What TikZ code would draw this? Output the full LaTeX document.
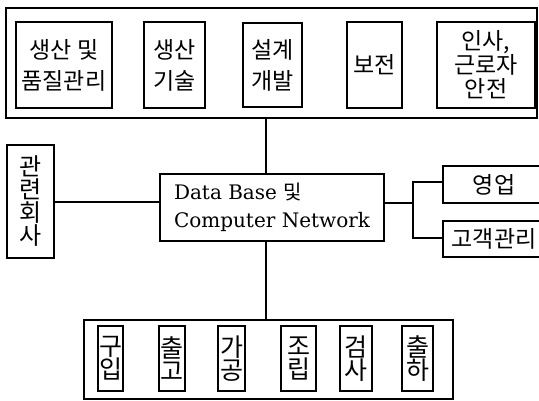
\documentclass[tikz,border=0pt]{standalone}
\usepackage{fontspec}
\newfontfamily\kr{Noto Sans CJK KR}
\newfontfamily\serifwide{DejaVu Serif}
\begin{document}
\begin{tikzpicture}[x=1pt,y=-1pt,
  grp/.style={draw, line width=1.1pt, inner sep=0pt},
  unit/.style={draw, line width=1.4pt, inner sep=0pt, align=center,
    font=\kr\fontsize{23}{31}\selectfont},
  vunit/.style={unit, font=\kr\fontsize{25}{23}\selectfont},
  link/.style={line width=1.1pt}]
\useasboundingbox (0,0) rectangle (539,401);

% upper group of departments
\node[grp, minimum width=531pt, minimum height=110pt] (upper) at (271.5,63) {};
\node[unit, minimum width=96pt, minimum height=86pt] (prod) at (64,65) {생산 및\\품질관리};
\node[unit, minimum width=61pt, minimum height=86pt] (tech) at (174.5,65) {생산\\기술};
\node[unit, minimum width=59pt, minimum height=84pt] (design) at (272.5,65) {설계\\개발};
\node[unit, minimum width=55pt, minimum height=86pt] (maint) at (374.5,65) {보전};
\node[unit, minimum width=98pt, minimum height=86pt,
  font=\kr\fontsize{23}{24}\selectfont] (hr) at (486,65) {인사,\\근로자\\안전};

% central database
\node[draw, line width=1.1pt, inner sep=0pt, minimum width=224pt, minimum height=67pt,
  align=left, font=\serifwide\fontsize{20}{28}\selectfont]
  (db) at (272,207.5) {Data Base {\kr 및}\\Computer Network};

% affiliated companies
\node[vunit, minimum width=47pt, minimum height=113pt,
  font=\kr\fontsize{24}{23}\selectfont] (rel) at (30.5,201.5) {관\\련\\회\\사};

% sales side
\node[unit, line width=1.1pt, minimum width=102pt, minimum height=37pt] (sales) at (494,184.5) {영업};
\node[unit, line width=1.1pt, minimum width=102pt, minimum height=36pt] (cust) at (494,239) {고객관리};

% lower group of shop-floor steps
\node[grp, minimum width=369pt, minimum height=79pt] (lower) at (268.5,359.5) {};
\node[vunit, minimum width=25pt, minimum height=65pt] (buy) at (110.5,358.5) {구\\입};
\node[vunit, minimum width=26pt, minimum height=65pt] (issue) at (172,358.5) {출\\고};
\node[vunit, minimum width=27pt, minimum height=65pt] (mach) at (231.5,358.5) {가\\공};
\node[vunit, minimum width=35pt, minimum height=65pt] (asm) at (298.5,358.5) {조\\립};
\node[vunit, minimum width=32pt, minimum height=65pt] (insp) at (356,358.5) {검\\사};
\node[vunit, minimum width=31pt, minimum height=65pt] (ship) at (417.5,358.5) {출\\하};

% connector guide points
\coordinate (spine) at (266,0);
\coordinate (relrow) at (0,202);
\coordinate (jn) at (413,203);
\coordinate (ja) at (413,182);
\coordinate (jb) at (413,238);

\draw[link] (upper.south -| spine) -- (db.north -| spine);
\draw[link] (db.south -| spine) -- (lower.north -| spine);
\draw[link] (rel.east |- relrow) -- (db.west |- relrow);
\draw[link] (db.east |- jn) -- (jn);
\draw[link] (sales.west |- ja) -- (ja) -- (jb) -- (cust.west |- jb);
\end{tikzpicture}
\end{document}
